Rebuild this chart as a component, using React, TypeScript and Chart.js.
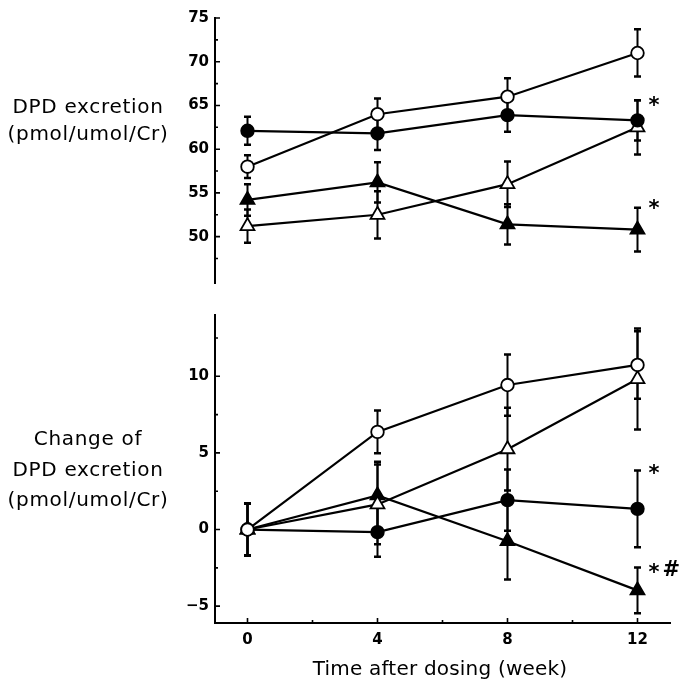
import React, { useEffect, useRef } from 'react';
import { Chart, registerables } from 'chart.js';

Chart.register(...registerables);

// ---------- data ----------
const weeks = [0, 4, 8, 12];
const xTickLabels = [0, 4, 8, 12];
const xMinorTicks = [2, 6, 10];

const topYTicks = [50, 55, 60, 65, 70, 75];
const topYMinor = [47.5, 52.5, 57.5, 62.5, 67.5, 72.5];
const botYTicks = [-5, 0, 5, 10];
const botYMinor = [-2.5, 2.5, 7.5, 12.5];

// Top panel: DPD excretion (pmol/umol/Cr)
const topOpenCircle = [58.0, 64.0, 66.0, 71.0];
const topOpenCircleErr = [1.3, 1.8, 2.1, 2.7];
const topFilledCircle = [62.1, 61.8, 63.9, 63.3];
const topFilledCircleErr = [1.6, 1.9, 1.9, 2.3];
const topFilledTriangle = [54.2, 56.2, 51.4, 50.8];
const topFilledTriangleErr = [1.8, 2.3, 2.3, 2.5];
const topOpenTriangle = [51.2, 52.5, 56.0, 62.5];
const topOpenTriangleErr = [1.9, 2.7, 2.6, 3.1];

// Bottom panel: Change of DPD excretion
const botOpenCircle = [0, 6.37, 9.43, 10.74];
const botOpenCircleErr = [1.7, 1.4, 2.0, 2.2];
const botOpenTriangle = [0, 1.64, 5.24, 9.82];
const botOpenTriangleErr = [1.7, 2.6, 2.7, 3.3];
const botFilledCircle = [0, -0.17, 1.92, 1.35];
const botFilledCircleErr = [1.7, 1.6, 2.0, 2.5];
const botFilledTriangle = [0, 2.23, -0.76, -3.97];
const botFilledTriangleErr = [1.7, 2.2, 2.5, 1.5];

// significance marks
const topMarkWeeks = [12, 12];
const topMarkValues = [65.5, 53.7];
const topMarkTexts = ['*', '*'];
const botMarkWeeks = [12, 12];
const botMarkValues = [3.93, -2.49];
const botMarkTexts = ['*', '*#'];

// ---------- helpers ----------
const BLACK = '#000000';
const FONT = '"DejaVu Sans", sans-serif';

function ds(values: number[], errors: number[], style: string, filled: boolean) {
  const isTri = style === 'triangle';
  return {
    data: weeks.map((w, i) => ({ x: w, y: values[i] })),
    errors,
    borderColor: BLACK,
    backgroundColor: filled ? BLACK : '#ffffff',
    borderWidth: 2.2,
    pointStyle: style,
    pointRadius: isTri ? 8 : 6.3,
    pointHoverRadius: isTri ? 8 : 6.3,
    pointBorderWidth: 1.8,
    pointBackgroundColor: filled ? BLACK : '#ffffff',
    pointBorderColor: BLACK,
    fill: false,
    tension: 0,
  };
}

const errorBarPlugin = {
  id: 'errorBars',
  beforeDatasetsDraw(chart: any) {
    const ctx = chart.ctx;
    const xs = chart.scales.x;
    const ys = chart.scales.y;
    ctx.save();
    ctx.strokeStyle = BLACK;
    chart.data.datasets.forEach((d: any) => {
      d.data.forEach((p: any, i: number) => {
        const e = d.errors ? d.errors[i] : 0;
        if (!e) return;
        const px = xs.getPixelForValue(p.x);
        const yT = ys.getPixelForValue(p.y + e);
        const yB = ys.getPixelForValue(p.y - e);
        ctx.lineWidth = 2;
        ctx.beginPath();
        ctx.moveTo(px, yT);
        ctx.lineTo(px, yB);
        ctx.stroke();
        ctx.lineWidth = 2.5;
        ctx.beginPath();
        ctx.moveTo(px - 3.5, yT);
        ctx.lineTo(px + 3.5, yT);
        ctx.moveTo(px - 3.5, yB);
        ctx.lineTo(px + 3.5, yB);
        ctx.stroke();
      });
    });
    ctx.restore();
  },
};

function makeTicksPlugin(yMajor: number[], yMinor: number[], xMajor: number[], xMinor: number[]) {
  return {
    id: 'innerTicks',
    afterDraw(chart: any) {
      const ctx = chart.ctx;
      const xs = chart.scales.x;
      const ys = chart.scales.y;
      const a = chart.chartArea;
      ctx.save();
      ctx.strokeStyle = BLACK;
      ctx.lineWidth = 1.6;
      ctx.beginPath();
      yMajor.forEach((v) => {
        const py = ys.getPixelForValue(v);
        ctx.moveTo(a.left, py);
        ctx.lineTo(a.left + 5, py);
      });
      yMinor.forEach((v) => {
        const py = ys.getPixelForValue(v);
        ctx.moveTo(a.left, py);
        ctx.lineTo(a.left + 3, py);
      });
      xMajor.forEach((v) => {
        const px = xs.getPixelForValue(v);
        ctx.moveTo(px, a.bottom);
        ctx.lineTo(px, a.bottom - 5);
      });
      xMinor.forEach((v) => {
        const px = xs.getPixelForValue(v);
        ctx.moveTo(px, a.bottom);
        ctx.lineTo(px, a.bottom - 3);
      });
      ctx.stroke();
      ctx.restore();
    },
  };
}

function makeMarksPlugin(xv: number[], yv: number[], texts: string[]) {
  return {
    id: 'sigMarks',
    afterDatasetsDraw(chart: any) {
      const ctx = chart.ctx;
      const xs = chart.scales.x;
      const ys = chart.scales.y;
      ctx.save();
      ctx.fillStyle = BLACK;
      ctx.font = 'bold 21px ' + FONT;
      ctx.textBaseline = 'alphabetic';
      ctx.textAlign = 'left';
      texts.forEach((t, i) => {
        let px = xs.getPixelForValue(xv[i]) + 11;
        const cy = ys.getPixelForValue(yv[i]);
        for (const ch of t) {
          const m = ctx.measureText(ch);
          const asc = m.actualBoundingBoxAscent;
          const desc = m.actualBoundingBoxDescent;
          ctx.fillText(ch, px, cy + (asc - desc) / 2);
          px += m.width + 3;
        }
      });
      ctx.restore();
    },
  };
}

const tickFont = { family: FONT, size: 15, weight: 'bold' as const };
const fmtTick = (v: any) => (Number(v) < 0 ? '\u2212' + Math.abs(Number(v)) : String(v));

function yScale(min: number, max: number, ticks: number[]) {
  return {
    type: 'linear' as const,
    position: 'left' as const,
    min,
    max,
    afterBuildTicks: (s: any) => {
      s.ticks = ticks.map((v) => ({ value: v }));
    },
    afterFit: (s: any) => {
      s.width = 215;
      s.paddingTop = 0;
      s.paddingBottom = 0;
    },
    grid: { display: false, drawTicks: false },
    border: { display: true, color: BLACK, width: 2 },
    ticks: { color: BLACK, font: tickFont, padding: 6, callback: fmtTick },
  };
}

export default function App() {
  const topRef = useRef<HTMLCanvasElement>(null);
  const botRef = useRef<HTMLCanvasElement>(null);

  useEffect(() => {
    const top = new Chart(topRef.current as HTMLCanvasElement, {
      type: 'line',
      data: {
        datasets: [
          ds(topOpenCircle, topOpenCircleErr, 'circle', false),
          ds(topFilledCircle, topFilledCircleErr, 'circle', true),
          ds(topFilledTriangle, topFilledTriangleErr, 'triangle', true),
          ds(topOpenTriangle, topOpenTriangleErr, 'triangle', false),
        ] as any,
      },
      options: {
        responsive: false,
        devicePixelRatio: 1,
        animation: false,
        layout: { padding: { left: 0, right: 15, top: 18, bottom: 17 } },
        plugins: { legend: { display: false }, tooltip: { enabled: false } },
        scales: {
          x: {
            type: 'linear',
            min: -1,
            max: 13,
            display: false,
          },
          y: yScale(44.7, 75, topYTicks),
        } as any,
      },
      plugins: [
        errorBarPlugin,
        makeTicksPlugin(topYTicks, topYMinor, [], []),
        makeMarksPlugin(topMarkWeeks, topMarkValues, topMarkTexts),
      ],
    });

    const bot = new Chart(botRef.current as HTMLCanvasElement, {
      type: 'line',
      data: {
        datasets: [
          ds(botOpenCircle, botOpenCircleErr, 'circle', false),
          ds(botOpenTriangle, botOpenTriangleErr, 'triangle', false),
          ds(botFilledCircle, botFilledCircleErr, 'circle', true),
          ds(botFilledTriangle, botFilledTriangleErr, 'triangle', true),
        ] as any,
      },
      options: {
        responsive: false,
        devicePixelRatio: 1,
        animation: false,
        layout: { padding: { left: 0, right: 15, top: 15, bottom: 0 } },
        plugins: { legend: { display: false }, tooltip: { enabled: false } },
        scales: {
          x: {
            type: 'linear',
            position: 'bottom',
            min: -1,
            max: 13,
            afterBuildTicks: (s: any) => {
              s.ticks = xTickLabels.map((v) => ({ value: v }));
            },
            afterFit: (s: any) => {
              s.height = 56;
              s.paddingLeft = 0;
              s.paddingRight = 0;
            },
            grid: { display: false, drawTicks: false },
            border: { display: true, color: BLACK, width: 2 },
            ticks: { color: BLACK, font: tickFont, padding: 8, callback: fmtTick },
          },
          y: yScale(-6.1, 14, botYTicks),
        } as any,
      },
      plugins: [
        errorBarPlugin,
        makeTicksPlugin(botYTicks, botYMinor, xTickLabels, xMinorTicks),
        makeMarksPlugin(botMarkWeeks, botMarkValues, botMarkTexts),
      ],
    });

    return () => {
      top.destroy();
      bot.destroy();
    };
  }, []);

  const titleStyle: React.CSSProperties = {
    position: 'absolute',
    left: 0,
    width: 176,
    textAlign: 'center',
    fontFamily: FONT,
    fontSize: 20,
    letterSpacing: '0.7px',
    whiteSpace: 'pre',
    color: BLACK,
  };

  return (
    <div style={{ position: 'absolute', left: 0, top: 0, width: 685, height: 679, background: '#ffffff' }}>
      <canvas ref={topRef} width={685} height={300} style={{ position: 'absolute', left: 0, top: 0, width: 685, height: 300 }} />
      <canvas ref={botRef} width={685} height={379} style={{ position: 'absolute', left: 0, top: 300, width: 685, height: 379 }} />
      <div style={{ ...titleStyle, top: 93, lineHeight: '27px' }}>{'DPD excretion\n(pmol/umol/Cr)'}</div>
      <div style={{ ...titleStyle, top: 423, lineHeight: '30.5px' }}>{'Change of\nDPD excretion\n(pmol/umol/Cr)'}</div>
      <div
        style={{
          position: 'absolute',
          left: 240,
          top: 656,
          width: 400,
          textAlign: 'center',
          fontFamily: FONT,
          fontSize: 20,
          lineHeight: '24px',
          letterSpacing: '0.2px',
          whiteSpace: 'pre',
          color: BLACK,
        }}
      >
        Time after dosing (week)
      </div>
    </div>
  );
}
